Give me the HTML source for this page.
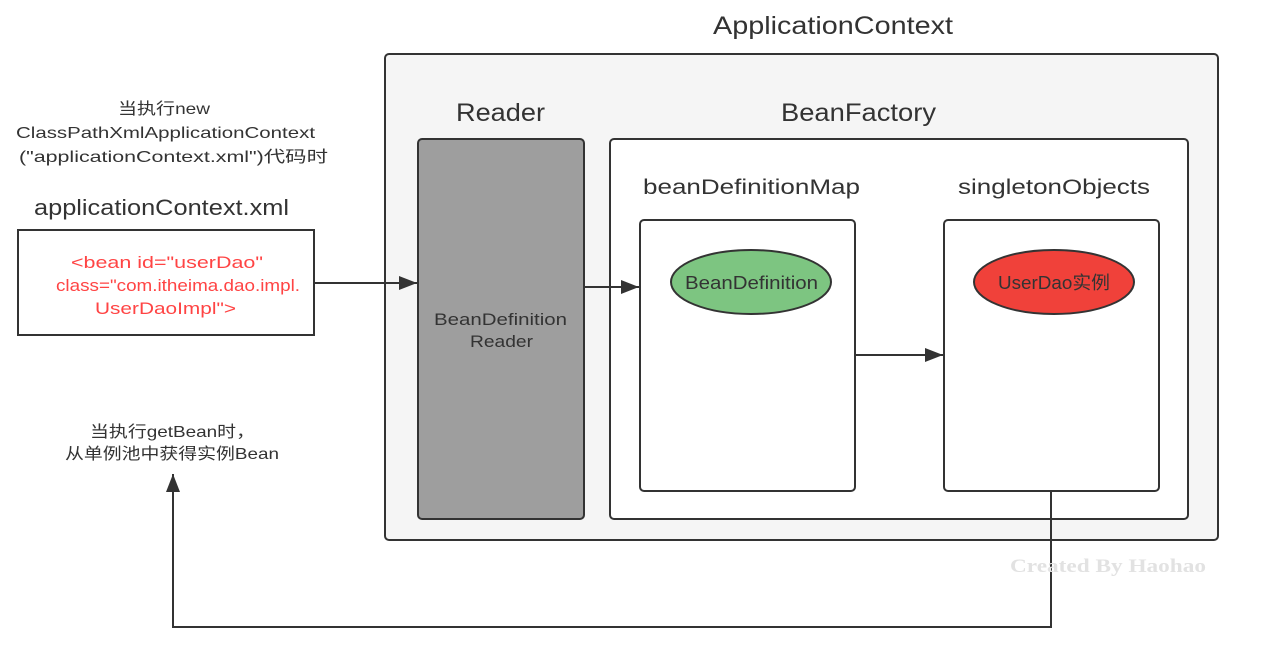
<!DOCTYPE html>
<html><head><meta charset="utf-8"><style>
html,body{margin:0;padding:0;background:#fff;width:1262px;height:648px;overflow:hidden}
text{font-family:"Liberation Sans","Noto Sans CJK SC",sans-serif;fill:#333}
</style></head><body>
<svg width="1262" height="648" viewBox="0 0 1262 648" xmlns="http://www.w3.org/2000/svg">
<defs><marker id="b" markerWidth="20" markerHeight="14" refX="18" refY="7" orient="auto" markerUnits="userSpaceOnUse"><path d="M0,0 L18,7 L0,14 z" fill="#333"/></marker></defs>
<g lengthAdjust="spacingAndGlyphs">
<text x="713" y="34" font-size="25" textLength="240" lengthAdjust="spacingAndGlyphs">ApplicationContext</text>
<rect x="385" y="54" width="833" height="486" rx="4" fill="#f5f5f5" stroke="#333" stroke-width="2"/>
<text x="456" y="121" font-size="25" textLength="89" lengthAdjust="spacingAndGlyphs">Reader</text>
<rect x="418" y="139" width="166" height="380" rx="4" fill="#9e9e9e" stroke="#333" stroke-width="2"/>
<text x="434" y="325" font-size="17" textLength="133" lengthAdjust="spacingAndGlyphs">BeanDefinition</text>
<text x="470" y="347" font-size="17" textLength="63" lengthAdjust="spacingAndGlyphs">Reader</text>
<text x="781" y="121" font-size="25" textLength="155" lengthAdjust="spacingAndGlyphs">BeanFactory</text>
<rect x="610" y="139" width="578" height="380" rx="4" fill="#fff" stroke="#333" stroke-width="2"/>
<text x="643" y="194" font-size="21" textLength="217" lengthAdjust="spacingAndGlyphs">beanDefinitionMap</text>
<rect x="640" y="220" width="215" height="271" rx="4" fill="#fff" stroke="#333" stroke-width="2"/>
<ellipse cx="751" cy="282" rx="80" ry="32" fill="#7dc581" stroke="#333" stroke-width="2"/>
<text x="685" y="289" font-size="18" textLength="133" lengthAdjust="spacingAndGlyphs">BeanDefinition</text>
<text x="958" y="194" font-size="21" textLength="192" lengthAdjust="spacingAndGlyphs">singletonObjects</text>
<rect x="944" y="220" width="215" height="271" rx="4" fill="#fff" stroke="#333" stroke-width="2"/>
<ellipse cx="1054" cy="282" rx="80" ry="32" fill="#f0413a" stroke="#333" stroke-width="2"/>
<text x="998" y="289" font-size="18" textLength="112" lengthAdjust="spacingAndGlyphs">UserDao实例</text>
<text x="118" y="114" font-size="16" textLength="92" lengthAdjust="spacingAndGlyphs">当执行new</text>
<text x="16" y="138" font-size="16" textLength="299" lengthAdjust="spacingAndGlyphs">ClassPathXmlApplicationContext</text>
<text x="19" y="162" font-size="16" textLength="309" lengthAdjust="spacingAndGlyphs">("applicationContext.xml")代码时</text>
<text x="34" y="215" font-size="22" textLength="255" lengthAdjust="spacingAndGlyphs">applicationContext.xml</text>
<rect x="18" y="230" width="296" height="105" fill="#fff" stroke="#333" stroke-width="2"/>
<text x="71" y="268" font-size="17" textLength="192" lengthAdjust="spacingAndGlyphs" style="fill:#f44">&lt;bean id="userDao"</text>
<text x="56" y="291" font-size="17" textLength="244" lengthAdjust="spacingAndGlyphs" style="fill:#f44">class="com.itheima.dao.impl.</text>
<text x="95" y="314" font-size="17" textLength="141" lengthAdjust="spacingAndGlyphs" style="fill:#f44">UserDaoImpl"&gt;</text>
<line x1="315" y1="283" x2="417" y2="283" stroke="#333" stroke-width="2" marker-end="url(#b)"/>
<line x1="585" y1="287" x2="639" y2="287" stroke="#333" stroke-width="2" marker-end="url(#b)"/>
<line x1="856" y1="355" x2="943" y2="355" stroke="#333" stroke-width="2" marker-end="url(#b)"/>
<polyline points="1051,492 1051,627 173,627 173,474" fill="none" stroke="#333" stroke-width="2" marker-end="url(#b)"/>
<text x="90" y="437" font-size="16" textLength="165" lengthAdjust="spacingAndGlyphs">当执行getBean时，</text>
<text x="65" y="459" font-size="16" textLength="214" lengthAdjust="spacingAndGlyphs">从单例池中获得实例Bean</text>
<text x="1010" y="572" font-size="19" font-weight="bold" textLength="196" lengthAdjust="spacingAndGlyphs" style="fill:#e2e2e2;font-family:'Liberation Serif',serif">Created By Haohao</text>
</g>
</svg>
</body></html>
